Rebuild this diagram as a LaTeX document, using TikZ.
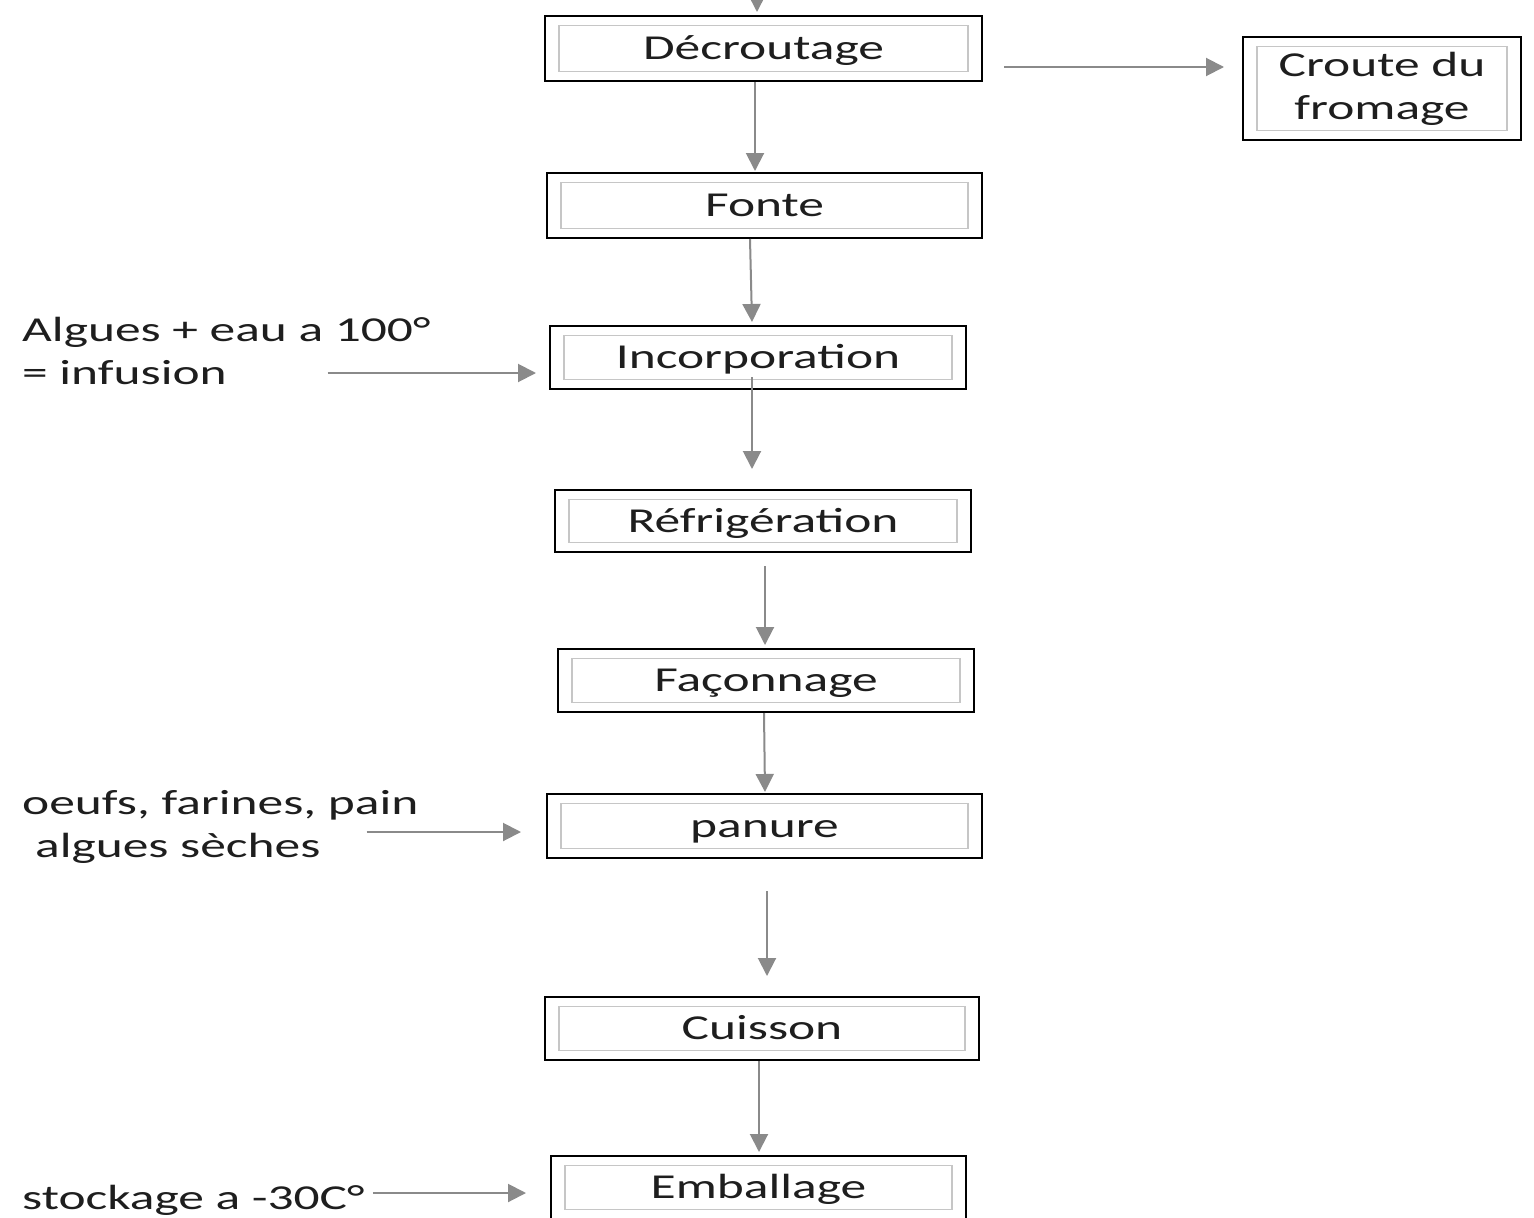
\documentclass[tikz,border=0pt]{standalone}
\usepackage{fontspec}
\setmainfont{Carlito}[FakeStretch=1.47]
\usetikzlibrary{arrows.meta,calc}
\definecolor{arrowgray}{HTML}{8A8A8A}
\definecolor{innergray}{HTML}{C6C6C6}
\definecolor{txtcol}{HTML}{1E1E1E}
\begin{document}
\begin{tikzpicture}[x=1pt,y=-1pt,
  frame/.style={draw=black, line width=2pt, text=txtcol, inner sep=0pt,
    font=\fontsize{35}{43}\selectfont,
    path picture={\draw[innergray, line width=1.6pt]
      ([shift={(14pt,-9.5pt)}]path picture bounding box.north west) rectangle
      ([shift={(-14pt,9.5pt)}]path picture bounding box.south east);}},
  stepbox/.style={frame, text height=30pt, text depth=8pt},
  sidelabel/.style={text=txtcol, inner sep=0pt, align=left, anchor=base west,
    font=\fontsize{35}{43}\selectfont},
  arr/.style={draw=arrowgray, line width=2pt, -{Triangle[length=18pt,width=18pt]}}]
\useasboundingbox (0,0) rectangle (1534,1218);
\clip (0,0) rectangle (1534,1218);

% process boxes
\node[stepbox, minimum width=437pt, minimum height=65pt] (dec) at (763.5,48.5) {Décroutage};
\node[frame, align=center, minimum width=278pt, minimum height=103pt] (croute) at (1382,88.5) {Croute du\\fromage};
\node[stepbox, minimum width=435pt, minimum height=65pt] (fonte) at (764.5,205.5) {Fonte};
\node[stepbox, minimum width=416pt, minimum height=63pt] (inc) at (758,357.5) {Incorporation};
\node[stepbox, minimum width=416pt, minimum height=62pt] (refr) at (763,521) {Réfrigération};
\node[stepbox, minimum width=416pt, minimum height=63pt] (faco) at (766,680.5) {Façonnage};
\node[stepbox, minimum width=435pt, minimum height=64pt] (pan) at (764.5,826) {panure};
\node[stepbox, minimum width=434pt, minimum height=63pt] (cuis) at (762,1028.5) {Cuisson};
\node[stepbox, minimum width=415pt, minimum height=63pt] (emb) at (758.5,1187.5) {Emballage\hspace{19pt}};

% side labels (base = baseline of last line)
\node[sidelabel] (alg) at (22,384) {Algues + eau a 100°\\= infusion};
\node[sidelabel] (oeufs) at (22,857) {oeufs, farines, pain\\\hspace*{13pt}algues sèches};
\node[sidelabel] (stock) at (22,1209) {stockage a -30C°};

% incoming arrow at top
\coordinate (topin) at (757,-20);
\draw[arr] (topin) -- ($(dec.north)+(-6.5,-3)$);

% main flow
\draw[arr] ($(dec.south)+(-8.5,0)$) -- ($(fonte.north)+(-9.5,-1)$);
\draw[arr] ($(dec.east)+(21,18.5)$) -- ($(croute.west)+(-18,-21.5)$);
\draw[arr] ($(fonte.south)+(-14.5,0)$) -- ($(inc.north)+(-6,-3)$);
\draw[arr] ($(inc.south)+(-6,-13)$) -- ($(refr.north)+(-11,-20)$);
\draw[arr] ($(refr.south)+(2,13)$) -- ($(faco.north)+(-1,-3)$);
\draw[arr] ($(faco.south)+(-2,0)$) -- ($(pan.north)+(0.5,-1)$);
\draw[arr] ($(pan.south)+(2.5,32)$) -- ($(cuis.north)+(5,-20)$);
\draw[arr] ($(cuis.south)+(-3,0)$) -- ($(emb.north)+(0.5,-3)$);

% side inputs
\coordinate (algE) at ($(inc.west)+(-13,15.5)$);
\draw[arr] ($(alg.east |- algE)+(-103,0)$) -- (algE);
\coordinate (oeufsE) at ($(pan.west)+(-25,6)$);
\draw[arr] ($(oeufs.east |- oeufsE)+(-52,0)$) -- (oeufsE);
\coordinate (stockE) at ($(emb.west)+(-24,5.5)$);
\draw[arr] ($(stock.east |- stockE)+(8,0)$) -- (stockE);
\end{tikzpicture}
\end{document}
